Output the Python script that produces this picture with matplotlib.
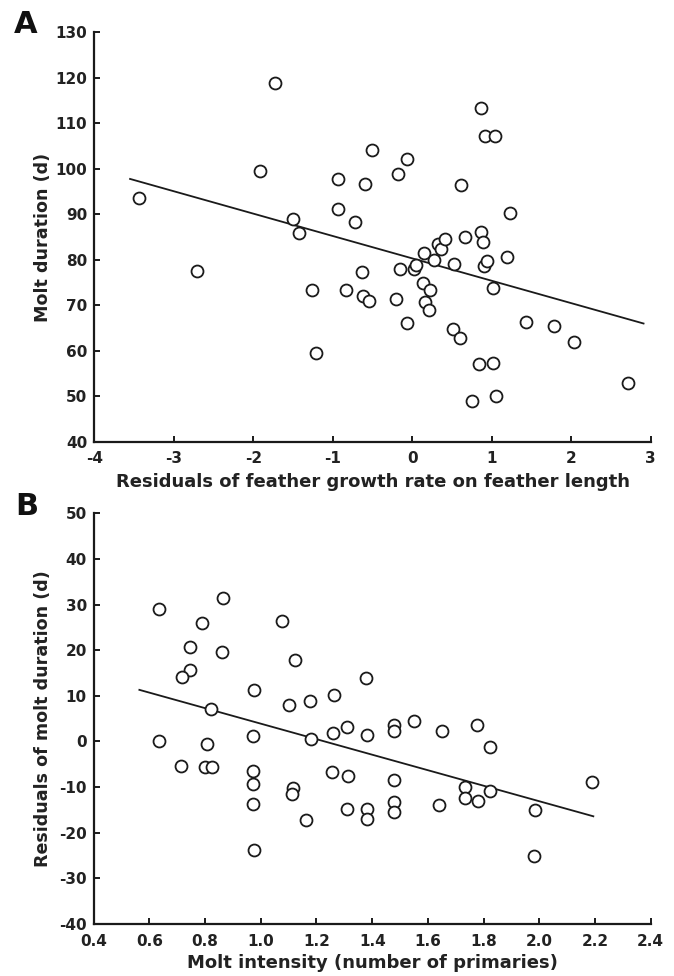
import matplotlib
matplotlib.use("Agg")
import matplotlib.pyplot as plt
import numpy as np

plt.rcParams['font.family'] = ['DejaVu Sans']
plt.rcParams['font.weight'] = 'bold'

# Panel A data
a_x = [-3.44, -2.71, -1.73, -1.91, -1.50, -1.42, -1.26, -1.21, -0.94, -0.93,
       -0.83, -0.72, -0.51, -0.60, -0.63, -0.62, -0.55, -0.18, -0.07, -0.21,
       -0.15, -0.06, 0.02, 0.05, 0.15, 0.14, 0.16, 0.21, 0.22, 0.27,
       0.32, 0.36, 0.41, 0.52, 0.51, 0.60, 0.61, 0.67, 0.75, 0.84,
       0.86, 0.86, 0.89, 0.90, 0.91, 0.94, 1.01, 1.02, 1.04, 1.06,
       1.19, 1.23, 1.43, 1.78, 2.03, 2.72]
a_y = [93.5, 77.5, 118.9, 99.5, 88.9, 85.8, 73.3, 59.4, 97.8, 91.1,
       73.3, 88.4, 104.1, 96.6, 77.4, 72.0, 71.0, 98.9, 102.1, 71.3,
       77.9, 66.2, 77.9, 78.8, 81.4, 74.9, 70.8, 69.0, 73.4, 80.0,
       83.5, 82.3, 84.5, 79.0, 64.7, 62.9, 96.4, 84.9, 48.9, 57.0,
       113.3, 86.2, 83.9, 78.7, 107.3, 79.8, 73.7, 57.4, 107.3, 50.0,
       80.6, 90.2, 66.3, 65.5, 61.9, 52.8]
a_line_x = [-3.55, 2.91]
a_intercept = 80.3
a_slope = -4.92

# Panel B data
b_x = [0.636, 0.863, 0.788, 0.746, 0.862, 0.746, 0.717, 0.820, 0.976, 1.075,
       1.123, 1.102, 1.177, 1.263, 1.378, 0.634, 0.713, 0.808, 0.799, 0.825,
       0.972, 0.972, 0.972, 0.972, 0.977, 1.115, 1.112, 1.163, 1.181, 1.260,
       1.257, 1.310, 1.381, 1.478, 1.478, 1.551, 1.650, 1.775, 1.823, 1.312,
       1.479, 1.733, 1.733, 1.779, 1.823, 1.310, 1.381, 1.381, 1.479, 1.479,
       1.641, 2.189, 1.986, 1.981]
b_y = [29.1, 31.5, 26.0, 20.8, 19.5, 15.6, 14.1, 7.2, 11.3, 26.4,
       17.8, 8.0, 8.9, 10.2, 13.8, 0.1, -5.3, -0.6, -5.5, -5.5,
       1.2, -6.5, -9.3, -13.6, -23.8, -10.2, -11.5, -17.3, 0.6, 1.9,
       -6.8, 3.2, 1.5, 3.7, 2.2, 4.5, 2.2, 3.7, -1.3, -7.5,
       -8.4, -9.9, -12.3, -13.1, -10.9, -14.9, -14.9, -16.9, -13.2, -15.4,
       -13.9, -8.8, -15.1, -25.1]
b_line_x = [0.564, 2.194]
b_intercept = 20.9
b_slope = -17.0

a_xticks = [-4, -3, -2, -1, 0, 1, 2, 3]
a_yticks = [40, 50, 60, 70, 80, 90, 100, 110, 120, 130]
b_xticks = [0.4, 0.6, 0.8, 1.0, 1.2, 1.4, 1.6, 1.8, 2.0, 2.2, 2.4]
b_yticks = [-40, -30, -20, -10, 0, 10, 20, 30, 40, 50]

W, H = 674, 976
fig = plt.figure(figsize=(W / 100, H / 100), dpi=100)

def px_axes(l, t, r, b):
    return fig.add_axes([l / W, 1 - b / H, (r - l) / W, (b - t) / H])

axA = px_axes(94.3, 32.3, 650.7, 441.7)
axB = px_axes(93.7, 513.3, 650.7, 924.0)

col = '#1a1a1a'
tcol = '#222222'

def style(ax):
    for s in ['top', 'right']:
        ax.spines[s].set_visible(False)
    for s in ['left', 'bottom']:
        ax.spines[s].set_linewidth(1.6)
        ax.spines[s].set_color(col)
    ax.tick_params(direction='in', length=4.5, width=1.4, colors=col,
                   labelsize=11)
    ax.tick_params(axis='x', pad=7)
    ax.tick_params(axis='y', pad=5)
    for lab in ax.get_xticklabels() + ax.get_yticklabels():
        lab.set_fontweight('bold')
        lab.set_color(tcol)

# Panel A
axA.plot(a_x, a_y, linestyle='none', marker='o', markersize=8.6,
         markerfacecolor='white', markeredgecolor=col, markeredgewidth=1.3,
         clip_on=False, zorder=3)
lx = np.array(a_line_x)
axA.plot(lx, a_intercept + a_slope * lx, color=col, linewidth=1.3, zorder=2)
axA.set_xlim(-4, 3)
axA.set_ylim(40, 130)
axA.set_xticks(a_xticks)
axA.set_yticks(a_yticks)
axA.set_xticklabels([str(t) for t in a_xticks])
axA.set_yticklabels([str(t) for t in a_yticks])
style(axA)
axA.set_xlabel('Residuals of feather growth rate on feather length',
               fontsize=13, fontweight='bold', color=tcol, labelpad=5)
axA.set_ylabel('Molt duration (d)', fontsize=12.6, fontweight='bold',
               color=tcol)
axA.yaxis.set_label_coords((52 - 94.3) / 556.4, 0.5)

# Panel B
axB.plot(b_x, b_y, linestyle='none', marker='o', markersize=8.6,
         markerfacecolor='white', markeredgecolor=col, markeredgewidth=1.3,
         clip_on=False, zorder=3)
lx = np.array(b_line_x)
axB.plot(lx, b_intercept + b_slope * lx, color=col, linewidth=1.3, zorder=2)
axB.set_xlim(0.4, 2.4)
axB.set_ylim(-40, 50)
axB.set_xticks(b_xticks)
axB.set_yticks(b_yticks)
axB.set_xticklabels([f'{t:.1f}' for t in b_xticks])
axB.set_yticklabels([str(t) for t in b_yticks])
style(axB)
axB.set_xlabel('Molt intensity (number of primaries)', fontsize=13,
               fontweight='bold', color=tcol, labelpad=4)
axB.set_ylabel('Residuals of molt duration (d)', fontsize=12.6,
               fontweight='bold', color=tcol)
axB.yaxis.set_label_coords((52 - 93.7) / 557.0, 0.5)

fig.text(14 / W, 1 - 33 / H, 'A', fontsize=22, fontweight='bold',
         color='#111111', va='baseline')
fig.text(15 / W, 1 - 515 / H, 'B', fontsize=22, fontweight='bold',
         color='#111111', va='baseline')

fig.savefig('out.png', dpi=100)
